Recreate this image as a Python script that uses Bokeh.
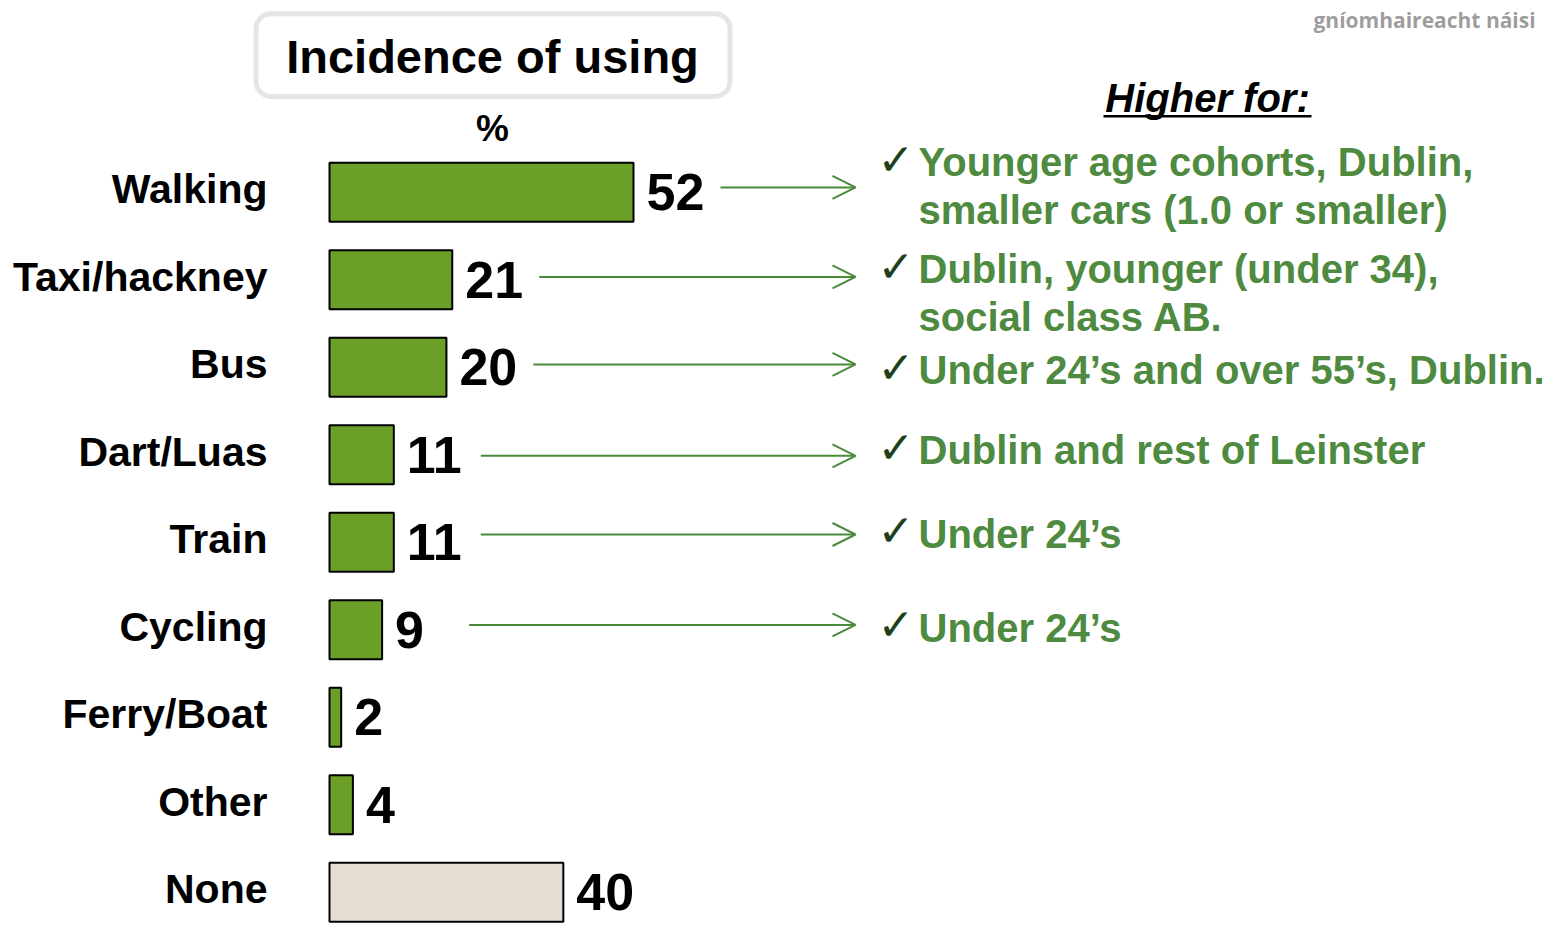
from bokeh.plotting import figure
from bokeh.models import Range1d, Arrow, OpenHead, BoxAnnotation, ColumnDataSource
from bokeh.core.properties import value
from bokeh.embed import file_html
from bokeh.resources import INLINE

# ---------------- data ----------------
categories = ["Walking", "Taxi/hackney", "Bus", "Dart/Luas", "Train",
              "Cycling", "Ferry/Boat", "Other", "None"]
values = [52, 21, 20, 11, 11, 9, 2, 4, 40]

title_text = "Incidence of using"
unit_text = "%"
notes_header = "Higher for:"
note_rows = ["Walking", "Taxi/hackney", "Bus", "Dart/Luas", "Train", "Cycling"]
note_lines = [
    ["Younger age cohorts, Dublin,", "smaller cars (1.0 or smaller)"],
    ["Dublin, younger (under 34),", "social class AB."],
    ["Under 24\u2019s and over 55\u2019s, Dublin."],
    ["Dublin and rest of Leinster"],
    ["Under 24\u2019s"],
    ["Under 24\u2019s"],
]
watermark = "gn\u00edomhaireacht n\u00e1isi"

# ---------------- layout / style ----------------
W, H = 1546, 925
REF_H = 950            # layout px mapped onto the figure height (slight vertical squeeze)
X0_PX = 329.0          # px where value 0 sits
PX_PER_UNIT = 5.846    # px per percentage point
ROW0_PX = 197.0        # px of first row centre
ROW_PX = 89.86         # px per row

def X(px):
    return (px - X0_PX) / PX_PER_UNIT

def Y(py):
    return (py - ROW0_PX) / ROW_PX

GREEN_BAR = "#6B9F27"
BEIGE = "#E4DDD3"
GREEN_TXT = "#4E8A40"
GREEN_ARROW = "#4A8B3B"
CHECK = "#1F3F1C"
FONT = value("Liberation Sans")

# per-note nudges (px) of first text line and arrow relative to row centre
note_nudge = [-31, -11, 3, -5, -9, -2]
arrow_nudge = [-5, -3, -3, 1, -8, -5]
LINE_GAP = 49
ARROW_GAP_PX = 87

p = figure(width=W, height=H, output_backend="svg", toolbar_location=None,
           x_range=Range1d(X(0), X(W)),
           y_range=Range1d(Y(REF_H), Y(0)),
           min_border=0, min_border_left=0, min_border_right=0,
           min_border_top=0, min_border_bottom=0)
p.axis.visible = False
p.grid.visible = False
p.outline_line_color = None
p.background_fill_color = "white"
p.border_fill_color = "white"

rows = list(range(len(categories)))
fills = [BEIGE if c == "None" else GREEN_BAR for c in categories]
src = ColumnDataSource(dict(y=rows, v=values, cat=categories, fill=fills,
                            lab=[str(v) for v in values]))

# bars
p.hbar(y="y", left=0, right="v", height=0.675, source=src,
       fill_color="fill", line_color="black", line_width=2)

# category labels
p.text(x=X(267), y="y", text="cat", source=src, text_align="right",
       text_baseline="middle", text_font=FONT, text_font_style="bold",
       text_font_size="41px", text_color="black", y_offset=-3)

# value labels
p.text(x="v", y="y", text="lab", source=src, text_align="left",
       text_baseline="middle", text_font=FONT, text_font_style="bold",
       text_font_size="52px", text_color="black", x_offset=13, y_offset=0)

# title box
box = BoxAnnotation(left=X(255.5), right=X(729.5), top=Y(13.5), bottom=Y(98.5),
                    fill_color="white", fill_alpha=1.0, line_color="#A8A8A8",
                    line_width=5, border_radius=15, level="underlay")
p.add_layout(box)
p.text(x=[X(492)], y=[Y(58)], text=[title_text], text_align="center",
       text_baseline="middle", text_font=FONT, text_font_style="bold",
       text_font_size="47px", text_color="black")
p.text(x=[X(492)], y=[Y(131)], text=[unit_text], text_align="center",
       text_baseline="middle", text_font=FONT, text_font_style="bold",
       text_font_size="37px", text_color="black")

# watermark
p.text(x=[X(1313)], y=[Y(20)], text=[watermark], text_align="left",
       text_baseline="middle", text_font=value("Open Sans"),
       text_font_style="bold", text_font_size="21px", text_color="#8C8C8C",
       text_alpha=0.85)

# notes header with underline
p.text(x=[X(1207)], y=[Y(100)], text=[notes_header], text_align="center",
       text_baseline="middle", text_font=FONT, text_font_style="bold italic",
       text_font_size="40px", text_color="black")
p.segment(x0=[X(1103)], x1=[X(1311)], y0=[Y(119)], y1=[Y(119)],
          line_color="black", line_width=2.5)

# notes, check marks and arrows
ax0, ax1, ay = [], [], []
tx, ty, tt = [], [], []
cx, cy = [], []
for i, (r, lines) in enumerate(zip(note_rows, note_lines)):
    ri = categories.index(r)
    row_px = ROW0_PX + ri * ROW_PX
    first = row_px + note_nudge[i]
    for k, ln in enumerate(lines):
        tx.append(X(918)); ty.append(Y(first + k * LINE_GAP)); tt.append(ln)
    cx.append(X(877)); cy.append(Y(first - 3))
    v = values[ri]
    ax0.append(v + ARROW_GAP_PX / PX_PER_UNIT)
    ax1.append(X(855))
    ay.append(Y(row_px + arrow_nudge[i]))

p.text(x=tx, y=ty, text=tt, text_align="left", text_baseline="middle",
       text_font=FONT, text_font_style="bold", text_font_size="40px",
       text_color=GREEN_TXT)
p.text(x=cx, y=cy, text=["\u2713"] * len(cx), text_align="left",
       text_baseline="middle", text_font=value("DejaVu Sans"),
       text_font_style="bold", text_font_size="44px", text_color=CHECK)

asrc = ColumnDataSource(dict(x0=ax0, x1=ax1, y=ay))
p.add_layout(Arrow(end=OpenHead(size=23, line_color=GREEN_ARROW, line_width=2),
                   x_start="x0", y_start="y", x_end="x1", y_end="y",
                   line_color=GREEN_ARROW, line_width=2, source=asrc))

open("out.html", "w").write(file_html(p, INLINE))
